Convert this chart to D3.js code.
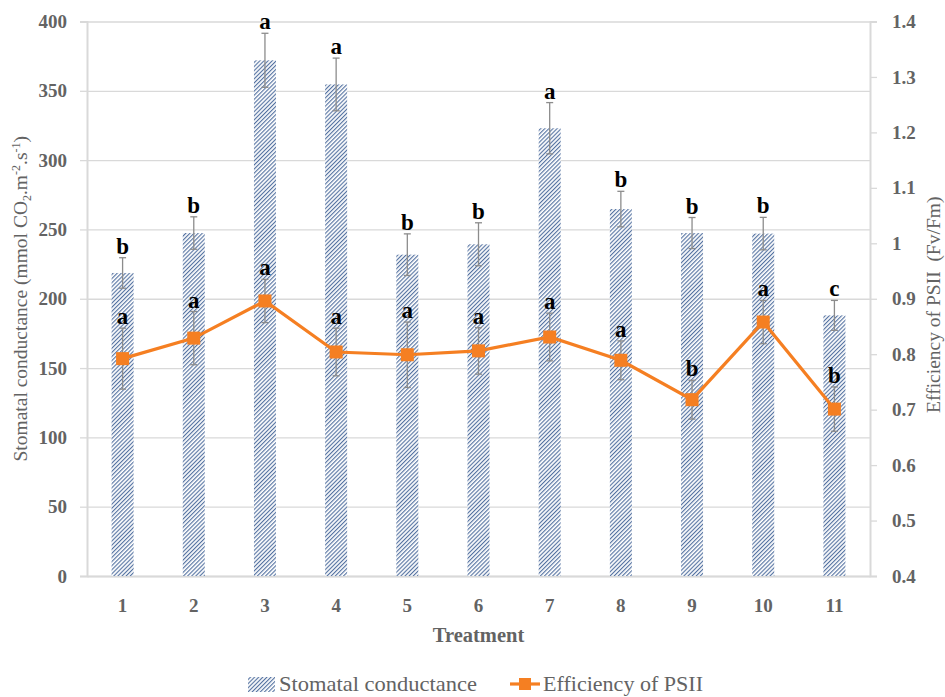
<!DOCTYPE html>
<html>
<head>
<meta charset="utf-8">
<script src="https://cdn.jsdelivr.net/npm/d3@7/dist/d3.min.js"></script>
<style>
  html, body { margin: 0; padding: 0; background: #fff; }
  svg { display: block; }
  text { font-family: "Palatino Linotype", "Book Antiqua", Palatino, "Liberation Serif", serif; }
</style>
</head>
<body>
<svg id="chart" width="945" height="697"></svg>
<script>
const categories = ["1","2","3","4","5","6","7","8","9","10","11"];
const conductance = [218.6, 247.4, 372.0, 354.6, 231.8, 239.3, 323.0, 264.7, 247.4, 247.0, 188.0];
const conductanceErr = [11.0, 11.7, 19.5, 19.0, 15.0, 15.5, 18.5, 12.8, 11.2, 11.7, 10.8];
const efficiency = [0.792, 0.829, 0.896, 0.804, 0.799, 0.806, 0.831, 0.789, 0.718, 0.858, 0.701];
const efficiencyErr = [0.055, 0.048, 0.039, 0.043, 0.059, 0.042, 0.043, 0.035, 0.035, 0.039, 0.040];
const barLetters = ["b","b","a","a","b","b","a","b","b","b","c"];
const lineLetters = ["a","a","a","a","a","a","a","a","b","a","b"];
const leftTicks = [0, 50, 100, 150, 200, 250, 300, 350, 400];
const rightTicks = [0.4, 0.5, 0.6, 0.7, 0.8, 0.9, 1.0, 1.1, 1.2, 1.3, 1.4];
const seriesNames = ["Stomatal conductance", "Efficiency of PSII"];

const svg = d3.select("#chart");
const L = 87, R = 870, T = 21.5, B = 576;
const x = d3.scaleBand().domain(categories).range([L, R]);
const yL = d3.scaleLinear().domain([0, 400]).range([B, T]);
const yR = d3.scaleLinear().domain([0.4, 1.4]).range([B, T]);

const gridCol = "#d9d9d9", textCol = "#636363", errCol = "#8c8c8c", orange = "#f57f22";

// hatch pattern
const defs = svg.append("defs");
const ps = 2.9;
const pat = defs.append("pattern").attr("id", "hatch")
  .attr("patternUnits", "userSpaceOnUse").attr("width", ps).attr("height", ps)
  .attr("patternTransform", "rotate(45)");
pat.append("rect").attr("width", ps).attr("height", ps).attr("fill", "#ffffff");
pat.append("line").attr("x1", 0.6).attr("y1", 0).attr("x2", 0.6).attr("y2", ps)
  .attr("stroke", "#46679a").attr("stroke-width", 1.05);

// gridlines
const gl = d3.axisLeft(yL).tickValues(leftTicks).tickSize(-(R - L)).tickFormat("");
svg.append("g").attr("transform", `translate(${L},0)`).call(gl)
  .call(g => g.select(".domain").remove())
  .call(g => g.selectAll("line").attr("stroke", gridCol).attr("stroke-width", 1.3));

// left axis
const axL = d3.axisLeft(yL).tickValues(leftTicks).tickSize(7).tickPadding(13).tickFormat(d3.format("d"));
svg.append("g").attr("transform", `translate(${L},0)`).call(axL)
  .call(g => g.select(".domain").attr("stroke", gridCol).attr("stroke-width", 2))
  .call(g => g.selectAll("line").attr("stroke", gridCol).attr("stroke-width", 1.3))
  .call(g => g.selectAll("text").attr("fill", textCol).attr("font-size", 19).attr("font-weight", "bold")
    .style("font-family", '"Liberation Serif", serif'));

// right axis
const axR = d3.axisRight(yR).tickValues(rightTicks).tickSize(7).tickPadding(15)
  .tickFormat(d => d === 1 ? "1" : d3.format(".1f")(d));
svg.append("g").attr("transform", `translate(${R},0)`).call(axR)
  .call(g => g.select(".domain").attr("stroke", gridCol).attr("stroke-width", 2))
  .call(g => g.selectAll("line").attr("stroke", gridCol).attr("stroke-width", 1.3))
  .call(g => g.selectAll("text").attr("fill", textCol).attr("font-size", 19).attr("font-weight", "bold")
    .style("font-family", '"Liberation Serif", serif'));

// bottom axis
const axB = d3.axisBottom(x).tickSize(0).tickPadding(23);
svg.append("g").attr("transform", `translate(0,${B})`).call(axB)
  .call(g => g.select(".domain").attr("stroke", gridCol).attr("stroke-width", 2))
  .call(g => g.selectAll("text").attr("fill", textCol).attr("font-size", 19).attr("font-weight", "bold")
    .style("font-family", '"Liberation Serif", serif'));

// bars
const barW = 22;
svg.append("g").selectAll("rect").data(categories).join("rect")
  .attr("x", (d) => x(d) + x.bandwidth() / 2 - barW / 2)
  .attr("y", (d, i) => yL(conductance[i]))
  .attr("width", barW)
  .attr("height", (d, i) => yL(0) - yL(conductance[i]))
  .attr("fill", "url(#hatch)");

function errorBars(vals, errs, scale) {
  const g = svg.append("g").attr("stroke", errCol).attr("stroke-width", 1.3);
  categories.forEach((c, i) => {
    const cx = x(c) + x.bandwidth() / 2;
    const y1 = scale(vals[i] + errs[i]), y2 = scale(vals[i] - errs[i]);
    g.append("line").attr("x1", cx).attr("x2", cx).attr("y1", y1).attr("y2", y2);
    g.append("line").attr("x1", cx - 3.5).attr("x2", cx + 3.5).attr("y1", y1).attr("y2", y1);
    g.append("line").attr("x1", cx - 3.5).attr("x2", cx + 3.5).attr("y1", y2).attr("y2", y2);
  });
}
errorBars(conductance, conductanceErr, yL);
errorBars(efficiency, efficiencyErr, yR);

// line
const line = d3.line().x((d, i) => x(categories[i]) + x.bandwidth() / 2).y(d => yR(d));
svg.append("path").datum(efficiency).attr("d", line)
  .attr("fill", "none").attr("stroke", orange).attr("stroke-width", 3.2);
const ms = 13;
svg.append("g").selectAll("rect").data(efficiency).join("rect")
  .attr("x", (d, i) => x(categories[i]) + x.bandwidth() / 2 - ms / 2)
  .attr("y", d => yR(d) - ms / 2)
  .attr("width", ms).attr("height", ms).attr("fill", orange);

// letters
const lg = svg.append("g").attr("font-size", 23).attr("font-weight", "bold")
  .attr("fill", "#000").attr("text-anchor", "middle");
categories.forEach((c, i) => {
  const cx = x(c) + x.bandwidth() / 2;
  lg.append("text").attr("x", cx).attr("y", yL(conductance[i] + conductanceErr[i]) - 4).text(barLetters[i]);
  lg.append("text").attr("x", cx).attr("y", yR(efficiency[i] + efficiencyErr[i]) - 4).text(lineLetters[i]);
});

// axis titles
const lt = svg.append("text").attr("transform", `translate(27,${(T + B) / 2}) rotate(-90)`)
  .attr("text-anchor", "middle").attr("fill", textCol).attr("font-size", 19.5);
lt.append("tspan").text("Stomatal conductance (mmol CO");
lt.append("tspan").attr("font-size", 12).attr("dy", 4).text("2");
lt.append("tspan").attr("dy", -4).text(".m");
lt.append("tspan").attr("font-size", 12).attr("dy", -7).text("-2");
lt.append("tspan").attr("dy", 7).text(".s");
lt.append("tspan").attr("font-size", 12).attr("dy", -7).text("-1");
lt.append("tspan").attr("dy", 7).text(")");

svg.append("text").attr("transform", `translate(940,${(T + B) / 2 + 6}) rotate(-90)`)
  .attr("text-anchor", "middle").attr("fill", textCol).attr("font-size", 19.5)
  .attr("xml:space", "preserve").text("Efficiency of PSII  (Fv/Fm)");

svg.append("text").attr("x", (L + R) / 2).attr("y", 642).attr("text-anchor", "middle")
  .attr("fill", textCol).attr("font-size", 20.5).attr("font-weight", "bold").text("Treatment");

// legend
const leg = svg.append("g");
leg.append("rect").attr("x", 248).attr("y", 677).attr("width", 27).attr("height", 15).attr("fill", "url(#hatch)");
leg.append("text").attr("x", 279).attr("y", 691).attr("fill", textCol).attr("font-size", 21)
  .attr("textLength", 198).attr("lengthAdjust", "spacingAndGlyphs").text(seriesNames[0]);
leg.append("line").attr("x1", 510).attr("x2", 540).attr("y1", 684).attr("y2", 684)
  .attr("stroke", orange).attr("stroke-width", 3.2);
leg.append("rect").attr("x", 519).attr("y", 678).attr("width", 12).attr("height", 12).attr("fill", orange);
leg.append("text").attr("x", 543).attr("y", 691).attr("fill", textCol).attr("font-size", 21)
  .attr("textLength", 160).attr("lengthAdjust", "spacingAndGlyphs").text(seriesNames[1]);
</script>
</body>
</html>
